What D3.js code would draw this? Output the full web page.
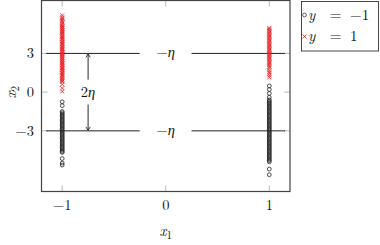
<!DOCTYPE html>
<html>
<head>
<meta charset="utf-8">
<script src="https://cdn.jsdelivr.net/npm/d3@7"></script>
<style>
  body { margin: 0; background: #fff; }
  svg { display: block; }
  text { font-family: "Latin Modern Roman", "CMU Serif", "DejaVu Serif", serif; fill: #111; }
  .greek { font-family: "Liberation Serif", "Noto Serif", serif; font-style: italic; }
</style>
</head>
<body>
<svg id="chart" width="380" height="245"></svg>
<script>
// data
const xTicks = [-1, 0, 1];
const yTicks = [-3, 0, 3];
const marginLevels = [3, -3];
const marginSegments = [[-1.155, -0.252], [0.249, 1.152]];
const arrowX = -0.75;

// x1 = -1
const redLeft = [0.05, 0.3, 0.6, 0.8, 0.85, 0.95, 1.0, 1.1, 1.2, 1.3, 1.35, 1.45, 1.5, 1.6, 1.7,
  1.75, 1.85, 1.9, 2.0, 2.1, 2.15, 2.25, 2.3, 2.4, 2.5, 2.55, 2.65, 2.7, 2.8, 2.9, 2.95, 3.05,
  3.1, 3.2, 3.3, 3.35, 3.45, 3.5, 3.6, 3.7, 3.75, 3.85, 3.9, 4.0, 4.1, 4.15, 4.25, 4.3, 4.4,
  4.5, 4.55, 4.65, 4.7, 4.8, 4.9, 4.95, 5.05, 5.1, 5.2, 5.3, 5.4, 5.5, 5.6, 5.7, 5.8, 5.95];
const blackLeft = [-0.75, -1.05, -1.5, -1.6, -1.7, -1.8, -1.9, -2.0, -2.1, -2.2, -2.3, -2.4,
  -2.5, -2.6, -2.7, -2.8, -2.9, -3.0, -3.1, -3.2, -3.3, -3.4, -3.5, -3.6, -3.7, -3.8, -3.9,
  -4.0, -4.1, -4.2, -4.3, -4.4, -4.5, -4.6, -4.67, -5.15, -5.5, -5.65];

// x1 = 1
const redRight = [1.15, 1.3, 1.45, 1.55, 1.7, 1.87, 2.0, 2.1, 2.2, 2.3, 2.4, 2.5, 2.6, 2.7,
  2.8, 2.9, 3.0, 3.1, 3.2, 3.3, 3.4, 3.5, 3.6, 3.7, 3.8, 3.9, 4.0, 4.1, 4.2, 4.3, 4.4, 4.5,
  4.6, 4.7, 4.8, 4.9, 4.97];
const blackRight = [0.48, 0.2, -0.1, -0.4, -0.6, -0.7, -0.8, -0.9, -1.0, -1.1, -1.2, -1.3,
  -1.4, -1.5, -1.6, -1.7, -1.8, -1.9, -2.0, -2.1, -2.2, -2.3, -2.4, -2.5, -2.6, -2.7, -2.8,
  -2.9, -3.0, -3.1, -3.2, -3.3, -3.4, -3.5, -3.6, -3.7, -3.8, -3.9, -4.0, -4.1, -4.2, -4.3,
  -4.4, -4.5, -4.6, -4.7, -4.8, -4.9, -5.0, -5.1, -5.2, -5.3, -5.4, -5.96, -6.4];

const legendItems = [
  { label: "−1", kind: "circle" },
  { label: "1", kind: "cross" }
];

const svg = d3.select("#chart");
const plot = { left: 41.5, right: 290, top: 0.5, bottom: 191.5 };

const x = d3.scaleLinear().domain([-1.2, 1.2]).range([plot.left, plot.right]);
const y = d3.scaleLinear().domain([-7.7, 7.1]).range([plot.bottom, plot.top]);

const tickLen = 6;
const tickColor = "#a8a8a8";
const fmt = d => d < 0 ? "−" + Math.abs(d) : String(d);

// inner ticks on all four sides
const ticks = svg.append("g").attr("stroke", tickColor).attr("stroke-width", 0.8);
xTicks.forEach(t => {
  ticks.append("line").attr("x1", x(t)).attr("x2", x(t)).attr("y1", plot.bottom).attr("y2", plot.bottom - tickLen);
  ticks.append("line").attr("x1", x(t)).attr("x2", x(t)).attr("y1", plot.top).attr("y2", plot.top + tickLen);
});
yTicks.forEach(t => {
  ticks.append("line").attr("y1", y(t)).attr("y2", y(t)).attr("x1", plot.left).attr("x2", plot.left + tickLen);
  ticks.append("line").attr("y1", y(t)).attr("y2", y(t)).attr("x1", plot.right).attr("x2", plot.right - tickLen);
});

// tick labels
svg.append("g").selectAll("text")
  .data(xTicks)
  .join("text")
    .attr("x", d => x(d))
    .attr("y", 209.5)
    .attr("text-anchor", "middle")
    .attr("font-size", 14.5)
    .text(fmt);

svg.append("g").selectAll("text")
  .data(yTicks)
  .join("text")
    .attr("x", 34)
    .attr("y", d => y(d) + 5)
    .attr("text-anchor", "end")
    .attr("font-size", 14.5)
    .text(fmt);

// margin lines with -eta labels
marginLevels.forEach(lv => {
  marginSegments.forEach(s => {
    svg.append("line")
      .attr("x1", x(s[0])).attr("x2", x(s[1]))
      .attr("y1", y(lv)).attr("y2", y(lv))
      .attr("stroke", "#222").attr("stroke-width", 1);
  });
  const t = svg.append("text")
    .attr("x", x(0))
    .attr("y", y(lv) + 4)
    .attr("text-anchor", "middle")
    .attr("font-size", 14.5);
  t.append("tspan").text("−");
  t.append("tspan").attr("class", "greek").text("η");
});

// 2eta arrow
const ax = x(arrowX);
const arrowHead = (yy, dir) => `M${ax - 2.2},${yy + dir * 3.5} L${ax},${yy} L${ax + 2.2},${yy + dir * 3.5}`;
svg.append("line")
  .attr("x1", ax).attr("x2", ax)
  .attr("y1", y(3) + 0.5).attr("y2", y(-3) - 0.5)
  .attr("stroke", "#111").attr("stroke-width", 0.9);
svg.append("path").attr("d", arrowHead(y(3) + 0.5, 1)).attr("fill", "none").attr("stroke", "#111").attr("stroke-width", 0.8);
svg.append("path").attr("d", arrowHead(y(-3) - 0.5, -1)).attr("fill", "none").attr("stroke", "#111").attr("stroke-width", 0.8);
svg.append("rect")
  .attr("x", ax - 11).attr("y", y(0) - 12.5)
  .attr("width", 23).attr("height", 25)
  .attr("fill", "#fff");
const lbl = svg.append("text")
  .attr("x", ax)
  .attr("y", y(0) + 4.5)
  .attr("text-anchor", "middle")
  .attr("font-size", 14.5);
lbl.append("tspan").text("2");
lbl.append("tspan").attr("class", "greek").text("η");

// scatter
const circleColor = "#222";
const crossColor = "#e8191c";
const crossPath = (cx, cy, s) => `M${cx - s},${cy - s}L${cx + s},${cy + s}M${cx - s},${cy + s}L${cx + s},${cy - s}`;

function drawCircles(xv, values) {
  svg.append("g").selectAll("circle")
    .data(values)
    .join("circle")
      .attr("cx", x(xv))
      .attr("cy", d => y(d))
      .attr("r", 1.9)
      .attr("fill", "none")
      .attr("stroke", circleColor)
      .attr("stroke-width", 0.8);
}
function drawCrosses(xv, values) {
  svg.append("g").selectAll("path")
    .data(values)
    .join("path")
      .attr("d", d => crossPath(x(xv), y(d), 2))
      .attr("fill", "none")
      .attr("stroke", crossColor)
      .attr("stroke-width", 0.8);
}
drawCircles(-1, blackLeft);
drawCrosses(-1, redLeft);
drawCircles(1, blackRight);
drawCrosses(1, redRight);

// frame
svg.append("rect")
  .attr("x", plot.left).attr("y", plot.top)
  .attr("width", plot.right - plot.left).attr("height", plot.bottom - plot.top)
  .attr("fill", "none").attr("stroke", "#444").attr("stroke-width", 1.2);

// axis labels
const xl = svg.append("text")
  .attr("x", x(0)).attr("y", 236)
  .attr("text-anchor", "middle").attr("font-size", 15);
xl.append("tspan").attr("font-style", "italic").text("x");
xl.append("tspan").attr("font-size", 11).attr("dy", 3).text("1");

const yl = svg.append("text")
  .attr("transform", `translate(16,${y(0)}) rotate(-90)`)
  .attr("text-anchor", "middle").attr("font-size", 15);
yl.append("tspan").attr("font-style", "italic").text("x");
yl.append("tspan").attr("font-size", 11).attr("dy", 3).text("2");

// legend
const lg = svg.append("g");
lg.append("rect")
  .attr("x", 301.5).attr("y", 1.5)
  .attr("width", 77).attr("height", 49.5)
  .attr("fill", "#fff").attr("stroke", "#333").attr("stroke-width", 0.9);
legendItems.forEach((it, i) => {
  const cy = 15 + i * 21.5;
  if (it.kind === "circle") {
    lg.append("circle").attr("cx", 304.5).attr("cy", cy).attr("r", 1.9)
      .attr("fill", "none").attr("stroke", circleColor).attr("stroke-width", 0.7);
  } else {
    lg.append("path").attr("d", crossPath(304.5, cy, 2))
      .attr("fill", "none").attr("stroke", crossColor).attr("stroke-width", 0.8);
  }
  lg.append("text").attr("x", 308).attr("y", cy + 4.5).attr("font-size", 15)
    .attr("font-style", "italic").text("y");
  lg.append("text").attr("x", 335.5).attr("y", cy + 4.5).attr("font-size", 15)
    .attr("text-anchor", "middle").text("=");
  lg.append("text").attr("x", 350).attr("y", cy + 4.5).attr("font-size", 15).text(it.label);
});
</script>
</body>
</html>
